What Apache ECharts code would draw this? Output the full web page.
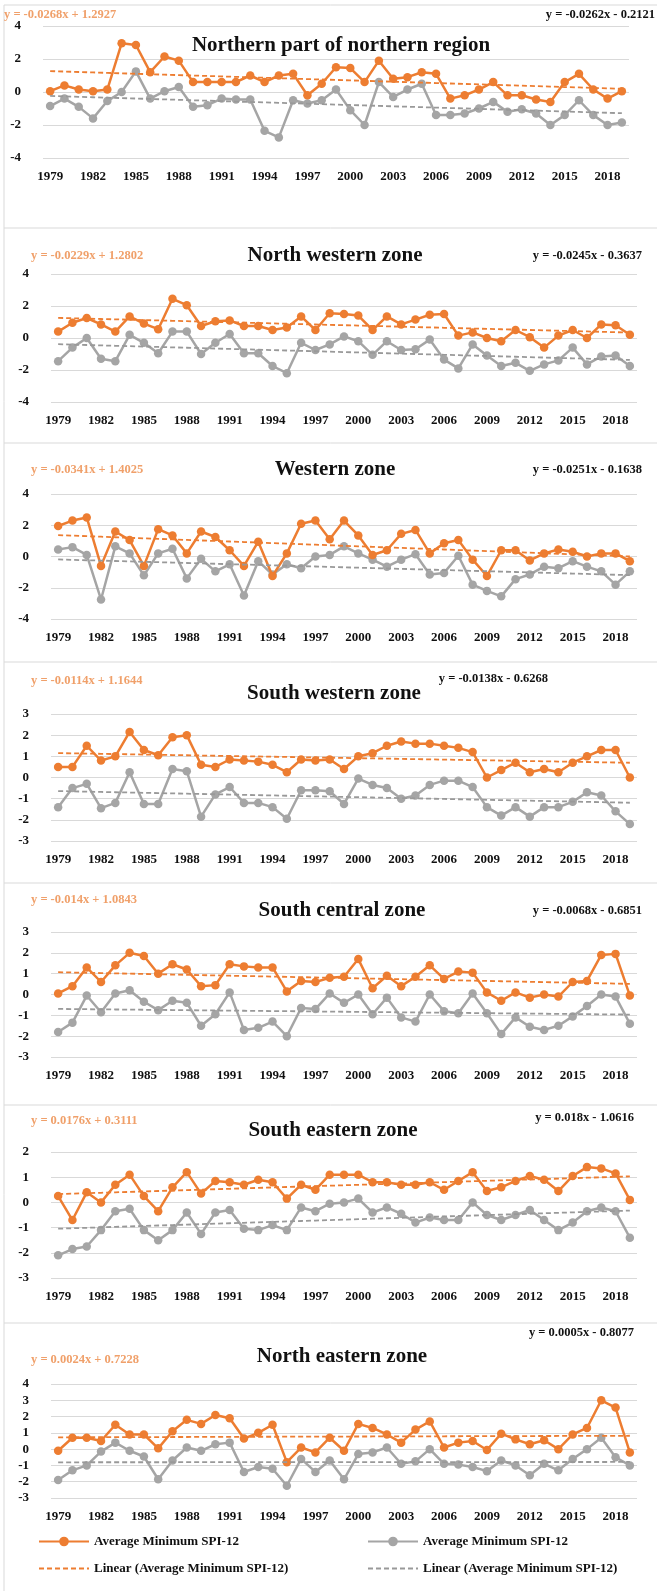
<!DOCTYPE html>
<html><head><meta charset="utf-8">
<script src="https://cdn.jsdelivr.net/npm/echarts@6/dist/echarts.min.js"></script>
<style>html,body{margin:0;padding:0;background:#fff}#c{width:657px;height:1591px}</style>
</head><body><div id="c"></div>
<script>
const years = [];
for (let y = 1979; y <= 2019; y++) years.push(String(y));

const panelTitles = ['Northern part of northern region','North western zone','Western zone','South western zone','South central zone','South eastern zone','North eastern zone'];

const p1Orange = [0.05,0.4,0.15,0.05,0.15,2.95,2.85,1.2,2.15,1.9, 0.6,0.6,0.6,0.6,1.0,0.6,1.0,1.1,-0.2,0.5, 1.5,1.45,0.6,1.9,0.8,0.9,1.2,1.1,-0.4,-0.2, 0.15,0.6,-0.2,-0.2,-0.45,-0.6,0.6,1.1,0.15,-0.4,0.05];
const p1Gray = [-0.85,-0.4,-0.9,-1.6,-0.55,0.0,1.25,-0.4,0.05,0.3, -0.9,-0.8,-0.4,-0.45,-0.45,-2.35,-2.75,-0.5,-0.7,-0.5, 0.15,-1.1,-2.0,0.6,-0.3,0.15,0.5,-1.4,-1.4,-1.3, -1.0,-0.6,-1.2,-1.05,-1.3,-2.0,-1.4,-0.5,-1.4,-2.0,-1.85];

const p2Orange = [0.4,0.95,1.25,0.85,0.4,1.35,0.9,0.55,2.45,2.05, 0.75,1.05,1.1,0.75,0.75,0.5,0.65,1.35,0.5,1.55, 1.5,1.4,0.5,1.35,0.85,1.15,1.45,1.5,0.15,0.35, 0.0,-0.2,0.5,0.05,-0.6,0.15,0.5,0.0,0.85,0.8,0.2];
const p2Gray = [-1.45,-0.6,0.0,-1.3,-1.45,0.2,-0.3,-0.95,0.4,0.4, -1.0,-0.3,0.25,-0.95,-0.95,-1.75,-2.2,-0.3,-0.75,-0.4, 0.1,-0.2,-1.05,-0.2,-0.75,-0.7,-0.1,-1.35,-1.9,-0.4, -1.1,-1.75,-1.55,-2.05,-1.65,-1.4,-0.6,-1.65,-1.15,-1.1,-1.75];

const p3Orange = [1.95,2.3,2.5,-0.6,1.6,1.05,-0.6,1.75,1.35,0.2, 1.6,1.25,0.4,-0.6,0.95,-1.25,0.2,2.1,2.3,1.1, 2.3,1.35,0.1,0.4,1.45,1.7,0.2,0.85,1.05,-0.2, -1.25,0.4,0.4,-0.25,0.2,0.45,0.3,0.0,0.2,0.2,-0.3];
const p3Gray = [0.45,0.6,0.1,-2.75,0.65,0.2,-1.2,0.2,0.5,-1.4, -0.15,-0.95,-0.5,-2.5,-0.3,-1.15,-0.5,-0.75,0.0,0.1, 0.65,0.2,-0.2,-0.65,-0.2,0.15,-1.15,-1.05,0.05,-1.8, -2.2,-2.55,-1.45,-1.15,-0.65,-0.75,-0.3,-0.65,-0.95,-1.8,-0.95];

const p4Orange = [0.5,0.5,1.5,0.8,1.0,2.15,1.3,1.05,1.9,2.0, 0.6,0.5,0.85,0.8,0.75,0.6,0.25,0.85,0.8,0.85, 0.4,1.0,1.15,1.5,1.7,1.6,1.6,1.5,1.4,1.2, 0.0,0.35,0.7,0.25,0.4,0.25,0.7,1.0,1.3,1.3,0.0];
const p4Gray = [-1.4,-0.5,-0.3,-1.45,-1.2,0.25,-1.25,-1.25,0.4,0.3, -1.85,-0.8,-0.45,-1.2,-1.2,-1.4,-1.95,-0.6,-0.6,-0.65, -1.25,-0.05,-0.35,-0.5,-1.0,-0.85,-0.35,-0.15,-0.15,-0.45, -1.4,-1.8,-1.4,-1.85,-1.4,-1.4,-1.15,-0.7,-0.85,-1.6,-2.2];

const p5Orange = [0.05,0.4,1.3,0.6,1.4,2.0,1.85,1.0,1.45,1.2, 0.4,0.45,1.45,1.35,1.3,1.3,0.15,0.65,0.6,0.8, 0.85,1.7,0.3,0.9,0.4,0.85,1.4,0.75,1.1,1.05, 0.1,-0.3,0.1,-0.15,0.0,-0.1,0.6,0.65,1.9,1.95,-0.05];
const p5Gray = [-1.8,-1.35,-0.05,-0.85,0.05,0.2,-0.35,-0.75,-0.3,-0.4, -1.5,-0.95,0.1,-1.7,-1.6,-1.3,-2.0,-0.65,-0.7,0.05, -0.4,0.0,-0.95,-0.15,-1.1,-1.3,0.0,-0.8,-0.9,0.05, -0.9,-1.9,-1.1,-1.55,-1.7,-1.5,-1.05,-0.55,0.0,-0.1,-1.4];

const p6Orange = [0.25,-0.7,0.4,0.0,0.7,1.1,0.25,-0.35,0.6,1.2, 0.35,0.85,0.8,0.7,0.9,0.8,0.15,0.7,0.5,1.1, 1.1,1.1,0.8,0.8,0.7,0.7,0.8,0.5,0.85,1.2, 0.45,0.6,0.85,1.05,0.9,0.45,1.05,1.4,1.35,1.15,0.1];
const p6Gray = [-2.1,-1.85,-1.75,-1.1,-0.35,-0.25,-1.1,-1.5,-1.1,-0.4, -1.25,-0.4,-0.3,-1.05,-1.1,-0.9,-1.1,-0.2,-0.35,-0.05, 0.0,0.15,-0.4,-0.2,-0.45,-0.8,-0.6,-0.7,-0.7,0.0, -0.5,-0.7,-0.5,-0.3,-0.7,-1.1,-0.8,-0.35,-0.2,-0.35,-1.4];

const p7Orange = [-0.1,0.7,0.7,0.5,1.5,0.9,0.9,0.05,1.1,1.8, 1.55,2.1,1.9,0.65,1.0,1.5,-0.8,0.1,-0.2,0.7, -0.1,1.55,1.3,0.9,0.4,1.2,1.7,0.1,0.4,0.5, -0.05,0.95,0.6,0.3,0.55,0.0,0.9,1.3,3.0,2.55,-0.2];
const p7Gray = [-1.9,-1.3,-1.0,-0.15,0.4,-0.1,-0.45,-1.85,-0.7,0.1, -0.1,0.3,0.4,-1.4,-1.1,-1.2,-2.25,-0.6,-1.4,-0.7, -1.85,-0.3,-0.2,0.1,-0.9,-0.75,0.0,-0.9,-0.95,-1.1, -1.35,-0.7,-1.0,-1.6,-0.9,-1.3,-0.6,0.0,0.7,-0.5,-1.0];

// trend line coefficients [slope, intercept] as printed on the chart (x = 1..41)
const orangeTrend = [[-0.0268,1.2927],[-0.0229,1.2802],[-0.0341,1.4025],[-0.0114,1.1644],[-0.014,1.0843],[0.0176,0.3111],[0.0024,0.7228]];
const grayTrend = [[-0.0262,-0.2121],[-0.0245,-0.3637],[-0.0251,-0.1638],[-0.0138,-0.6268],[-0.0068,-0.6851],[0.018,-1.0616],[0.0005,-0.8077]];
const orangeEq = ['y = -0.0268x + 1.2927','y = -0.0229x + 1.2802','y = -0.0341x + 1.4025','y = -0.0114x + 1.1644','y = -0.014x + 1.0843','y = 0.0176x + 0.3111','y = 0.0024x + 0.7228'];
const grayEq = ['y = -0.0262x - 0.2121','y = -0.0245x - 0.3637','y = -0.0251x - 0.1638','y = -0.0138x - 0.6268','y = -0.0068x - 0.6851','y = 0.018x - 1.0616','y = 0.0005x - 0.8077'];
const yRanges = [[-4,4,2],[-4,4,2],[-4,4,2],[-3,3,1],[-3,3,1],[-3,2,1],[-3,4,1]];

const orangeData = [p1Orange,p2Orange,p3Orange,p4Orange,p5Orange,p6Orange,p7Orange];
const grayData = [p1Gray,p2Gray,p3Gray,p4Gray,p5Gray,p6Gray,p7Gray];

// layout
const gridBoxes = [
  {left:43,top:26,width:586,height:132},
  {left:51,top:274,width:586,height:128},
  {left:51,top:494,width:586,height:125},
  {left:51,top:714,width:586,height:127},
  {left:51,top:932,width:586,height:125},
  {left:51,top:1152,width:586,height:126},
  {left:51,top:1384,width:586,height:114}
];
const titlePos = [[341,46],[335,256],[335,470],[334,694],[342,911],[333,1131],[342,1357]];
const oEqPos = [[4,15],[31,256],[31,470],[31,681],[31,900],[31,1121],[31,1360]];
const gEqPos = [[655,15],[642,256],[642,470],[548,679],[642,911],[634,1118],[634,1333]];
const borderY = [5,228,443,662,883,1105,1323];

const ORANGE = '#ED7D31', GRAY = '#A5A5A5';
const FONT = '"Liberation Serif", "DejaVu Serif", serif';

const grid=[], xAxis=[], yAxis=[], series=[], graphic=[];
for (let i=0;i<7;i++){
  grid.push(gridBoxes[i]);
  xAxis.push({type:'category', gridIndex:i, data:years, boundaryGap:true,
    axisLine:{show:false}, axisTick:{show:false},
    axisLabel:{interval:2, margin:12, color:'#111', fontFamily:FONT, fontWeight:'bold', fontSize:13},
    splitLine:{show:false}});
  const r = yRanges[i];
  yAxis.push({type:'value', gridIndex:i, min:r[0], max:r[1], interval:r[2],
    axisLine:{show:false}, axisTick:{show:false},
    axisLabel:{margin:22, color:'#111', fontFamily:FONT, fontWeight:'bold', fontSize:13},
    splitLine:{lineStyle:{color:'#D9D9D9', width:1}}});
  const ot = orangeTrend[i], gt = grayTrend[i];
  series.push({name:'Average Minimum SPI-12', type:'line', xAxisIndex:i, yAxisIndex:i, data:orangeData[i],
    symbol:'circle', symbolSize:8.5, itemStyle:{color:ORANGE}, lineStyle:{color:ORANGE,width:2.5}, z:3});
  series.push({name:'Average Minimum SPI-12\u200b', type:'line', xAxisIndex:i, yAxisIndex:i, data:grayData[i],
    symbol:'circle', symbolSize:8.5, itemStyle:{color:GRAY}, lineStyle:{color:GRAY,width:2.5}, z:2});
  series.push({name:'Linear (Average Minimum SPI-12)', type:'line', xAxisIndex:i, yAxisIndex:i,
    data:years.map((_,k)=>+(ot[0]*(k+1)+ot[1]).toFixed(4)), symbol:'none',
    itemStyle:{color:ORANGE}, lineStyle:{color:ORANGE,width:1.8,type:[5,3]}, z:4, silent:true});
  series.push({name:'Linear (Average Minimum SPI-12)\u200b', type:'line', xAxisIndex:i, yAxisIndex:i,
    data:years.map((_,k)=>+(gt[0]*(k+1)+gt[1]).toFixed(4)), symbol:'none',
    itemStyle:{color:'#999'}, lineStyle:{color:'#999',width:1.8,type:[5,3]}, z:4, silent:true});
  graphic.push({type:'text', x:titlePos[i][0], y:titlePos[i][1], z:10,
    style:{text:panelTitles[i], font:'bold 21px '+FONT, fill:'#111', textAlign:'center', textVerticalAlign:'middle'}});
  graphic.push({type:'text', x:oEqPos[i][0], y:oEqPos[i][1], z:10,
    style:{text:orangeEq[i], font:'bold 12.5px '+FONT, fill:'#F0A06A', textAlign:'left', textVerticalAlign:'middle'}});
  graphic.push({type:'text', x:gEqPos[i][0], y:gEqPos[i][1], z:10,
    style:{text:grayEq[i], font:'bold 12.5px '+FONT, fill:'#111', textAlign:'right', textVerticalAlign:'middle'}});
  graphic.push({type:'line', shape:{x1:4,y1:borderY[i],x2:657,y2:borderY[i]}, style:{stroke:'#D9D9D9',lineWidth:1}, z:0});
}
graphic.push({type:'line', shape:{x1:4,y1:5,x2:4,y2:1591}, style:{stroke:'#D9D9D9',lineWidth:1}, z:0});

const legendText = {color:'#111', fontFamily:FONT, fontWeight:'bold', fontSize:13};
const option = {
  animation:false,
  backgroundColor:'#fff',
  grid, xAxis, yAxis, series, graphic,
  legend:[
    {left:33, top:1530, orient:'vertical', itemGap:14, itemWidth:50, itemHeight:12, textStyle:legendText,
     data:['Average Minimum SPI-12', {name:'Linear (Average Minimum SPI-12)', itemStyle:{opacity:0}}]},
    {left:362, top:1530, orient:'vertical', itemGap:14, itemWidth:50, itemHeight:12, textStyle:legendText,
     data:['Average Minimum SPI-12\u200b', {name:'Linear (Average Minimum SPI-12)\u200b', itemStyle:{opacity:0}}]}
  ]
};
const chart = echarts.init(document.getElementById('c'), null, {renderer:'canvas'});
chart.setOption(option);
</script></body></html>
